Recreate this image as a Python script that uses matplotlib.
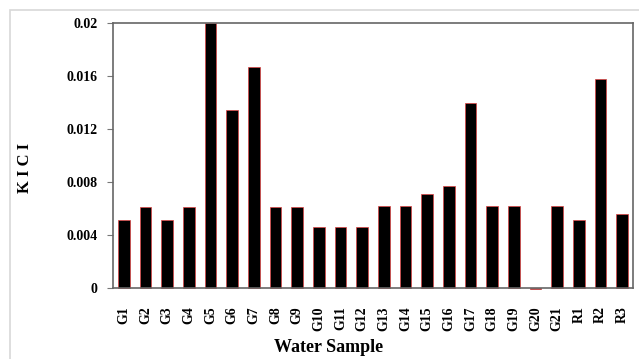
import matplotlib.pyplot as plt
from matplotlib.patches import Rectangle

# data
samples = ["G1", "G2", "G3", "G4", "G5", "G6", "G7", "G8", "G9", "G10", "G11", "G12",
           "G13", "G14", "G15", "G16", "G17", "G18", "G19", "G20", "G21", "R1", "R2", "R3"]
kici = [0.0051, 0.0061, 0.0051, 0.0061, 0.0200, 0.0134, 0.0167, 0.0061, 0.0061, 0.0046,
        0.0046, 0.0046, 0.0062, 0.0062, 0.0071, 0.0077, 0.0140, 0.0062, 0.0062, -0.0001,
        0.0062, 0.0051, 0.0158, 0.0056]
yticks = [0, 0.004, 0.008, 0.012, 0.016, 0.02]
ytick_labels = ["0", "0.004", "0.008", "0.012", "0.016", "0.02"]

plt.rcParams['font.family'] = ['Liberation Serif', 'DejaVu Serif']

W, H = 639, 359
fig = plt.figure(figsize=(W / 100, H / 100), dpi=100)
# outer light frame
fig.patches.append(Rectangle((10 / W, -0.1), 1.2, 1 - 10 / H + 0.1, transform=fig.transFigure,
                             fill=False, edgecolor='#d8d8d8', linewidth=1.2))

ax = fig.add_axes([113 / W, 1 - 288 / H, (633 - 113) / W, (288 - 23) / H])
x = range(len(samples))
bars = ax.bar(x, kici, width=0.54, color='black', edgecolor='#e04040', linewidth=0.5)
for b in bars:
    b.set_clip_on(False)

ax.set_xlim(-0.5, len(samples) - 0.5)
ax.set_ylim(0, 0.02)
ax.set_yticks(yticks)
ax.set_yticklabels(ytick_labels, fontsize=10, fontweight='bold')
ax.set_xticks(list(x))
ax.set_xticklabels(samples, rotation=90, fontsize=10, fontweight='bold')
ax.tick_params(axis='x', length=0, pad=13)
ax.tick_params(axis='y', length=4, width=0.8, color='#777777', pad=7)
for s in ax.spines.values():
    s.set_color('#666666')
    s.set_linewidth(1.2)

fig.text(329 / W, 1 - 347 / H, "Water Sample", fontsize=13, fontweight='bold',
         ha='center', va='center')
fig.text(25 / W, 1 - 168 / H, "K I C I", fontsize=12, fontweight='bold',
         ha='center', va='center', rotation=90)

fig.savefig("out.png", dpi=100)
